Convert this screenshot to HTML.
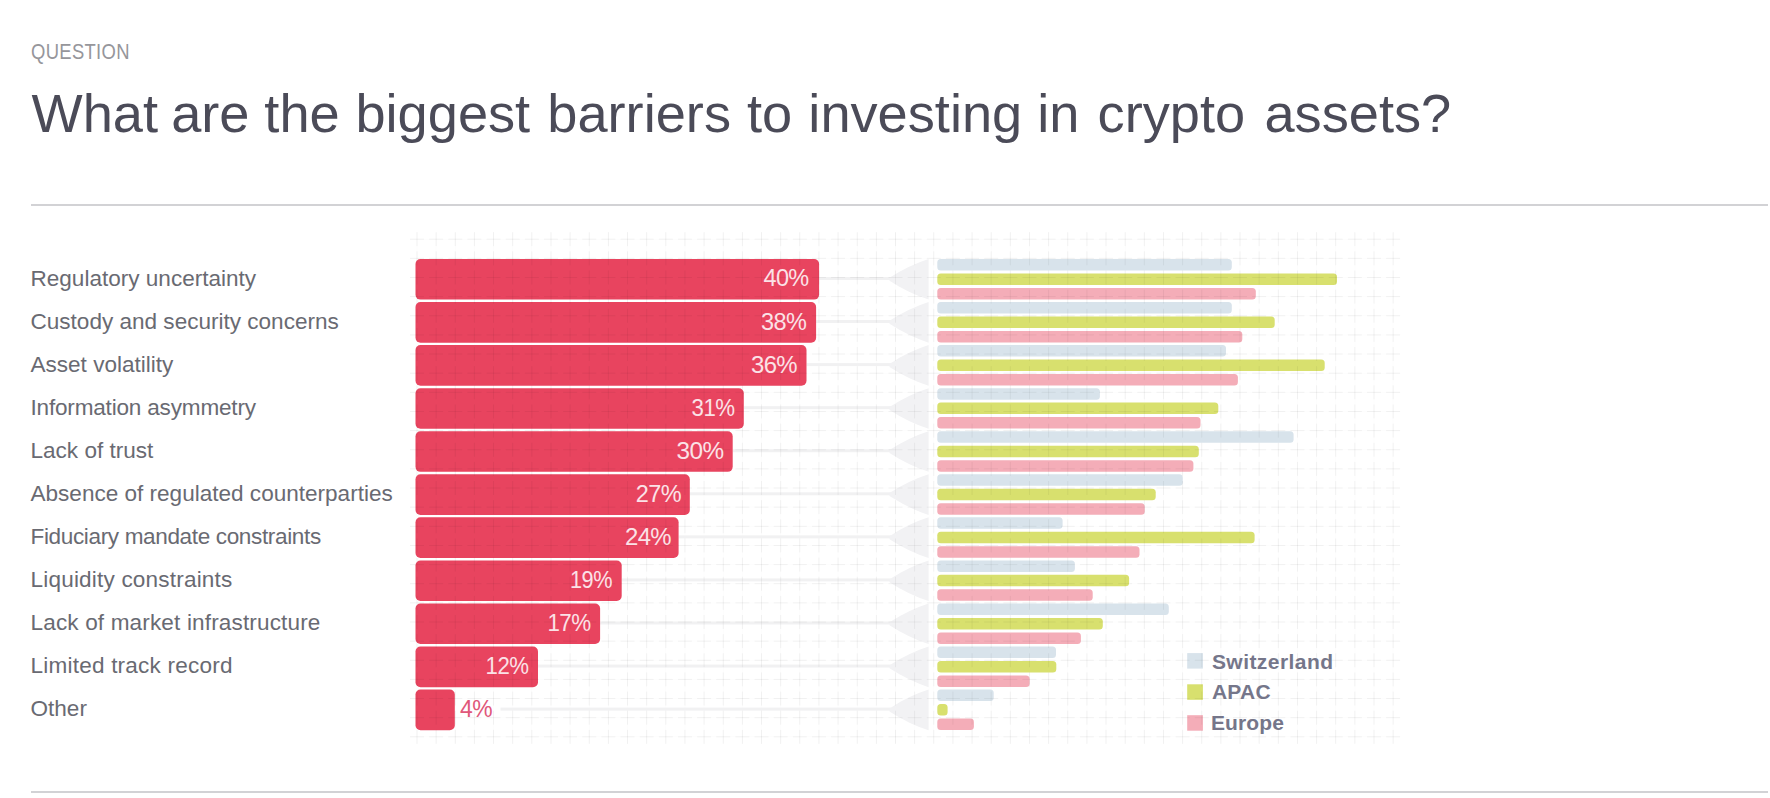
<!DOCTYPE html>
<html><head><meta charset="utf-8"><style>
html,body{margin:0;padding:0;background:#fff;}
body{width:1770px;height:798px;position:relative;overflow:hidden;font-family:"Liberation Sans",sans-serif;}
.b{position:absolute;white-space:nowrap;line-height:0;}
.q{position:absolute;left:31px;top:52.27px;font-size:22.3px;color:#96969b;letter-spacing:0.4px;transform:scaleX(0.826);transform-origin:0 0;line-height:0;white-space:nowrap;}
.t{position:absolute;top:112.72px;font-size:54.2px;color:#4b4b58;line-height:0;white-space:nowrap;}
.hr{position:absolute;left:31px;width:1737px;height:2px;background:#d2d2d5;}
svg{position:absolute;left:0;top:0;}
.lab{position:absolute;left:30.5px;font-size:22.55px;color:#696a72;line-height:0;white-space:nowrap;}
.pct{position:absolute;transform:translateX(-50%);font-size:23.5px;letter-spacing:-0.6px;color:#fbe2e7;line-height:0;white-space:nowrap;}
.pct.out{color:#e0577a;}
.leg{position:absolute;left:1211px;font-size:21px;font-weight:bold;color:#75768a;line-height:0;white-space:nowrap;}
</style></head><body>
<div class="q">QUESTION</div>
<div class="t" style="left:31.55px">What</div>
<div class="t" style="left:171.2px">are</div>
<div class="t" style="left:264.35px">the</div>
<div class="t" style="left:355.45px">biggest</div>
<div class="t" style="left:547.3px">barriers</div>
<div class="t" style="left:746.95px">to</div>
<div class="t" style="left:808.35px">investing</div>
<div class="t" style="left:1037.15px">in</div>
<div class="t" style="left:1097.55px">crypto</div>
<div class="t" style="left:1264.45px">assets?</div>
<div class="hr" style="top:203.6px"></div>
<svg width="1770" height="798" viewBox="0 0 1770 798">
<path d="M410 239.2H1400.14M410 258.34H1400.14M410 277.48H1400.14M410 296.62H1400.14M410 315.76H1400.14M410 334.9H1400.14M410 354.04H1400.14M410 373.18H1400.14M410 392.32H1400.14M410 411.46H1400.14M410 430.6H1400.14M410 449.74H1400.14M410 468.88H1400.14M410 488.02H1400.14M410 507.16H1400.14M410 526.3H1400.14M410 545.44H1400.14M410 564.58H1400.14M410 583.72H1400.14M410 602.86H1400.14M410 622H1400.14M410 641.14H1400.14M410 660.28H1400.14M410 679.42H1400.14M410 698.56H1400.14M410 717.7H1400.14M410 736.84H1400.14M417 232.2V743.84M436.14 232.2V743.84M455.28 232.2V743.84M474.42 232.2V743.84M493.56 232.2V743.84M512.7 232.2V743.84M531.84 232.2V743.84M550.98 232.2V743.84M570.12 232.2V743.84M589.26 232.2V743.84M608.4 232.2V743.84M627.54 232.2V743.84M646.68 232.2V743.84M665.82 232.2V743.84M684.96 232.2V743.84M704.1 232.2V743.84M723.24 232.2V743.84M742.38 232.2V743.84M761.52 232.2V743.84M780.66 232.2V743.84M799.8 232.2V743.84M818.94 232.2V743.84M838.08 232.2V743.84M857.22 232.2V743.84M876.36 232.2V743.84M895.5 232.2V743.84M914.64 232.2V743.84M933.78 232.2V743.84M952.92 232.2V743.84M972.06 232.2V743.84M991.2 232.2V743.84M1010.34 232.2V743.84M1029.48 232.2V743.84M1048.62 232.2V743.84M1067.76 232.2V743.84M1086.9 232.2V743.84M1106.04 232.2V743.84M1125.18 232.2V743.84M1144.32 232.2V743.84M1163.46 232.2V743.84M1182.6 232.2V743.84M1201.74 232.2V743.84M1220.88 232.2V743.84M1240.02 232.2V743.84M1259.16 232.2V743.84M1278.3 232.2V743.84M1297.44 232.2V743.84M1316.58 232.2V743.84M1335.72 232.2V743.84M1354.86 232.2V743.84M1374 232.2V743.84M1393.14 232.2V743.84" stroke="rgba(0,0,0,0.01)" stroke-width="1" fill="none"/>
<rect x="819.1" y="277" width="71.9" height="3" fill="#f1f1f2"/>
<path d="M889.5 277.8 Q909.05 265.2 928.6 259 L928.6 299.6 Q909.05 293.4 889.5 280.8 Z" fill="#f2f2f4"/>
<rect x="816.1" y="320.06" width="74.9" height="3" fill="#f1f1f2"/>
<path d="M889.5 320.86 Q909.05 308.26 928.6 302.06 L928.6 342.66 Q909.05 336.46 889.5 323.86 Z" fill="#f2f2f4"/>
<rect x="806.5" y="363.12" width="84.5" height="3" fill="#f1f1f2"/>
<path d="M889.5 363.92 Q909.05 351.32 928.6 345.12 L928.6 385.72 Q909.05 379.52 889.5 366.92 Z" fill="#f2f2f4"/>
<rect x="743.8" y="406.18" width="147.2" height="3" fill="#f1f1f2"/>
<path d="M889.5 406.98 Q909.05 394.38 928.6 388.18 L928.6 428.78 Q909.05 422.58 889.5 409.98 Z" fill="#f2f2f4"/>
<rect x="732.7" y="449.24" width="158.3" height="3" fill="#f1f1f2"/>
<path d="M889.5 450.04 Q909.05 437.44 928.6 431.24 L928.6 471.84 Q909.05 465.64 889.5 453.04 Z" fill="#f2f2f4"/>
<rect x="689.8" y="492.3" width="201.2" height="3" fill="#f1f1f2"/>
<path d="M889.5 493.1 Q909.05 480.5 928.6 474.3 L928.6 514.9 Q909.05 508.7 889.5 496.1 Z" fill="#f2f2f4"/>
<rect x="678.6" y="535.36" width="212.4" height="3" fill="#f1f1f2"/>
<path d="M889.5 536.16 Q909.05 523.56 928.6 517.36 L928.6 557.96 Q909.05 551.76 889.5 539.16 Z" fill="#f2f2f4"/>
<rect x="621.7" y="578.42" width="269.3" height="3" fill="#f1f1f2"/>
<path d="M889.5 579.22 Q909.05 566.62 928.6 560.42 L928.6 601.02 Q909.05 594.82 889.5 582.22 Z" fill="#f2f2f4"/>
<rect x="600.1" y="621.48" width="290.9" height="3" fill="#f1f1f2"/>
<path d="M889.5 622.28 Q909.05 609.68 928.6 603.48 L928.6 644.08 Q909.05 637.88 889.5 625.28 Z" fill="#f2f2f4"/>
<rect x="538" y="664.54" width="353" height="3" fill="#f1f1f2"/>
<path d="M889.5 665.34 Q909.05 652.74 928.6 646.54 L928.6 687.14 Q909.05 680.94 889.5 668.34 Z" fill="#f2f2f4"/>
<rect x="500.5" y="707.6" width="390.5" height="3" fill="#f1f1f2"/>
<path d="M889.5 708.4 Q909.05 695.8 928.6 689.6 L928.6 730.2 Q909.05 724 889.5 711.4 Z" fill="#f2f2f4"/>
<rect x="415.5" y="259" width="403.6" height="40.6" rx="5" fill="#e8445f"/>
<rect x="415.5" y="302.06" width="400.6" height="40.6" rx="5" fill="#e8445f"/>
<rect x="415.5" y="345.12" width="391" height="40.6" rx="5" fill="#e8445f"/>
<rect x="415.5" y="388.18" width="328.3" height="40.6" rx="5" fill="#e8445f"/>
<rect x="415.5" y="431.24" width="317.2" height="40.6" rx="5" fill="#e8445f"/>
<rect x="415.5" y="474.3" width="274.3" height="40.6" rx="5" fill="#e8445f"/>
<rect x="415.5" y="517.36" width="263.1" height="40.6" rx="5" fill="#e8445f"/>
<rect x="415.5" y="560.42" width="206.2" height="40.6" rx="5" fill="#e8445f"/>
<rect x="415.5" y="603.48" width="184.6" height="40.6" rx="5" fill="#e8445f"/>
<rect x="415.5" y="646.54" width="122.5" height="40.6" rx="5" fill="#e8445f"/>
<rect x="415.5" y="689.6" width="39.3" height="40.6" rx="5" fill="#e8445f"/>
<rect x="937.3" y="259" width="294.5" height="11.5" rx="3.5" fill="#d8e3eb"/>
<rect x="937.3" y="273.4" width="399.7" height="11.5" rx="3.5" fill="#d8e06e"/>
<rect x="937.3" y="287.9" width="318.5" height="11.5" rx="3.5" fill="#f4adb8"/>
<rect x="937.3" y="302.06" width="294.5" height="11.5" rx="3.5" fill="#d8e3eb"/>
<rect x="937.3" y="316.46" width="337.4" height="11.5" rx="3.5" fill="#d8e06e"/>
<rect x="937.3" y="330.96" width="305" height="11.5" rx="3.5" fill="#f4adb8"/>
<rect x="937.3" y="345.12" width="288.7" height="11.5" rx="3.5" fill="#d8e3eb"/>
<rect x="937.3" y="359.52" width="387.4" height="11.5" rx="3.5" fill="#d8e06e"/>
<rect x="937.3" y="374.02" width="300.6" height="11.5" rx="3.5" fill="#f4adb8"/>
<rect x="937.3" y="388.18" width="162.6" height="11.5" rx="3.5" fill="#d8e3eb"/>
<rect x="937.3" y="402.58" width="281" height="11.5" rx="3.5" fill="#d8e06e"/>
<rect x="937.3" y="417.08" width="263.2" height="11.5" rx="3.5" fill="#f4adb8"/>
<rect x="937.3" y="431.24" width="356.3" height="11.5" rx="3.5" fill="#d8e3eb"/>
<rect x="937.3" y="445.64" width="261.5" height="11.5" rx="3.5" fill="#d8e06e"/>
<rect x="937.3" y="460.14" width="256.1" height="11.5" rx="3.5" fill="#f4adb8"/>
<rect x="937.3" y="474.3" width="245.5" height="11.5" rx="3.5" fill="#d8e3eb"/>
<rect x="937.3" y="488.7" width="218.4" height="11.5" rx="3.5" fill="#d8e06e"/>
<rect x="937.3" y="503.2" width="207.4" height="11.5" rx="3.5" fill="#f4adb8"/>
<rect x="937.3" y="517.36" width="125.3" height="11.5" rx="3.5" fill="#d8e3eb"/>
<rect x="937.3" y="531.76" width="317.3" height="11.5" rx="3.5" fill="#d8e06e"/>
<rect x="937.3" y="546.26" width="202.2" height="11.5" rx="3.5" fill="#f4adb8"/>
<rect x="937.3" y="560.42" width="137.6" height="11.5" rx="3.5" fill="#d8e3eb"/>
<rect x="937.3" y="574.82" width="191.8" height="11.5" rx="3.5" fill="#d8e06e"/>
<rect x="937.3" y="589.32" width="155.4" height="11.5" rx="3.5" fill="#f4adb8"/>
<rect x="937.3" y="603.48" width="231.5" height="11.5" rx="3.5" fill="#d8e3eb"/>
<rect x="937.3" y="617.88" width="165.5" height="11.5" rx="3.5" fill="#d8e06e"/>
<rect x="937.3" y="632.38" width="143.6" height="11.5" rx="3.5" fill="#f4adb8"/>
<rect x="937.3" y="646.54" width="118.7" height="11.5" rx="3.5" fill="#d8e3eb"/>
<rect x="937.3" y="660.94" width="119" height="11.5" rx="3.5" fill="#d8e06e"/>
<rect x="937.3" y="675.44" width="92.3" height="11.5" rx="3.5" fill="#f4adb8"/>
<rect x="937.3" y="689.6" width="56.4" height="11.5" rx="3.5" fill="#d8e3eb"/>
<rect x="937.3" y="704" width="10.3" height="11.5" rx="3.5" fill="#d8e06e"/>
<rect x="937.3" y="718.5" width="36.6" height="11.5" rx="3.5" fill="#f4adb8"/>
<rect x="1187.2" y="653.1" width="15.7" height="15.5" fill="#d8e3eb"/>
<rect x="1187.2" y="684.3" width="15.7" height="15.5" fill="#d8e06e"/>
<rect x="1187.2" y="715.2" width="15.7" height="15.5" fill="#f4adb8"/>
<path d="M410 239.2h14M417 232.2v14M429.14 239.2h14M436.14 232.2v14M448.28 239.2h14M455.28 232.2v14M467.42 239.2h14M474.42 232.2v14M486.56 239.2h14M493.56 232.2v14M505.7 239.2h14M512.7 232.2v14M524.84 239.2h14M531.84 232.2v14M543.98 239.2h14M550.98 232.2v14M563.12 239.2h14M570.12 232.2v14M582.26 239.2h14M589.26 232.2v14M601.4 239.2h14M608.4 232.2v14M620.54 239.2h14M627.54 232.2v14M639.68 239.2h14M646.68 232.2v14M658.82 239.2h14M665.82 232.2v14M677.96 239.2h14M684.96 232.2v14M697.1 239.2h14M704.1 232.2v14M716.24 239.2h14M723.24 232.2v14M735.38 239.2h14M742.38 232.2v14M754.52 239.2h14M761.52 232.2v14M773.66 239.2h14M780.66 232.2v14M792.8 239.2h14M799.8 232.2v14M811.94 239.2h14M818.94 232.2v14M831.08 239.2h14M838.08 232.2v14M850.22 239.2h14M857.22 232.2v14M869.36 239.2h14M876.36 232.2v14M888.5 239.2h14M895.5 232.2v14M907.64 239.2h14M914.64 232.2v14M926.78 239.2h14M933.78 232.2v14M945.92 239.2h14M952.92 232.2v14M965.06 239.2h14M972.06 232.2v14M984.2 239.2h14M991.2 232.2v14M1003.34 239.2h14M1010.34 232.2v14M1022.48 239.2h14M1029.48 232.2v14M1041.62 239.2h14M1048.62 232.2v14M1060.76 239.2h14M1067.76 232.2v14M1079.9 239.2h14M1086.9 232.2v14M1099.04 239.2h14M1106.04 232.2v14M1118.18 239.2h14M1125.18 232.2v14M1137.32 239.2h14M1144.32 232.2v14M1156.46 239.2h14M1163.46 232.2v14M1175.6 239.2h14M1182.6 232.2v14M1194.74 239.2h14M1201.74 232.2v14M1213.88 239.2h14M1220.88 232.2v14M1233.02 239.2h14M1240.02 232.2v14M1252.16 239.2h14M1259.16 232.2v14M1271.3 239.2h14M1278.3 232.2v14M1290.44 239.2h14M1297.44 232.2v14M1309.58 239.2h14M1316.58 232.2v14M1328.72 239.2h14M1335.72 232.2v14M1347.86 239.2h14M1354.86 232.2v14M1367 239.2h14M1374 232.2v14M1386.14 239.2h14M1393.14 232.2v14M410 258.34h14M417 251.34v14M429.14 258.34h14M436.14 251.34v14M448.28 258.34h14M455.28 251.34v14M467.42 258.34h14M474.42 251.34v14M486.56 258.34h14M493.56 251.34v14M505.7 258.34h14M512.7 251.34v14M524.84 258.34h14M531.84 251.34v14M543.98 258.34h14M550.98 251.34v14M563.12 258.34h14M570.12 251.34v14M582.26 258.34h14M589.26 251.34v14M601.4 258.34h14M608.4 251.34v14M620.54 258.34h14M627.54 251.34v14M639.68 258.34h14M646.68 251.34v14M658.82 258.34h14M665.82 251.34v14M677.96 258.34h14M684.96 251.34v14M697.1 258.34h14M704.1 251.34v14M716.24 258.34h14M723.24 251.34v14M735.38 258.34h14M742.38 251.34v14M754.52 258.34h14M761.52 251.34v14M773.66 258.34h14M780.66 251.34v14M792.8 258.34h14M799.8 251.34v14M811.94 258.34h14M818.94 251.34v14M831.08 258.34h14M838.08 251.34v14M850.22 258.34h14M857.22 251.34v14M869.36 258.34h14M876.36 251.34v14M888.5 258.34h14M895.5 251.34v14M907.64 258.34h14M914.64 251.34v14M926.78 258.34h14M933.78 251.34v14M945.92 258.34h14M952.92 251.34v14M965.06 258.34h14M972.06 251.34v14M984.2 258.34h14M991.2 251.34v14M1003.34 258.34h14M1010.34 251.34v14M1022.48 258.34h14M1029.48 251.34v14M1041.62 258.34h14M1048.62 251.34v14M1060.76 258.34h14M1067.76 251.34v14M1079.9 258.34h14M1086.9 251.34v14M1099.04 258.34h14M1106.04 251.34v14M1118.18 258.34h14M1125.18 251.34v14M1137.32 258.34h14M1144.32 251.34v14M1156.46 258.34h14M1163.46 251.34v14M1175.6 258.34h14M1182.6 251.34v14M1194.74 258.34h14M1201.74 251.34v14M1213.88 258.34h14M1220.88 251.34v14M1233.02 258.34h14M1240.02 251.34v14M1252.16 258.34h14M1259.16 251.34v14M1271.3 258.34h14M1278.3 251.34v14M1290.44 258.34h14M1297.44 251.34v14M1309.58 258.34h14M1316.58 251.34v14M1328.72 258.34h14M1335.72 251.34v14M1347.86 258.34h14M1354.86 251.34v14M1367 258.34h14M1374 251.34v14M1386.14 258.34h14M1393.14 251.34v14M410 277.48h14M417 270.48v14M429.14 277.48h14M436.14 270.48v14M448.28 277.48h14M455.28 270.48v14M467.42 277.48h14M474.42 270.48v14M486.56 277.48h14M493.56 270.48v14M505.7 277.48h14M512.7 270.48v14M524.84 277.48h14M531.84 270.48v14M543.98 277.48h14M550.98 270.48v14M563.12 277.48h14M570.12 270.48v14M582.26 277.48h14M589.26 270.48v14M601.4 277.48h14M608.4 270.48v14M620.54 277.48h14M627.54 270.48v14M639.68 277.48h14M646.68 270.48v14M658.82 277.48h14M665.82 270.48v14M677.96 277.48h14M684.96 270.48v14M697.1 277.48h14M704.1 270.48v14M716.24 277.48h14M723.24 270.48v14M735.38 277.48h14M742.38 270.48v14M754.52 277.48h14M761.52 270.48v14M773.66 277.48h14M780.66 270.48v14M792.8 277.48h14M799.8 270.48v14M811.94 277.48h14M818.94 270.48v14M831.08 277.48h14M838.08 270.48v14M850.22 277.48h14M857.22 270.48v14M869.36 277.48h14M876.36 270.48v14M888.5 277.48h14M895.5 270.48v14M907.64 277.48h14M914.64 270.48v14M926.78 277.48h14M933.78 270.48v14M945.92 277.48h14M952.92 270.48v14M965.06 277.48h14M972.06 270.48v14M984.2 277.48h14M991.2 270.48v14M1003.34 277.48h14M1010.34 270.48v14M1022.48 277.48h14M1029.48 270.48v14M1041.62 277.48h14M1048.62 270.48v14M1060.76 277.48h14M1067.76 270.48v14M1079.9 277.48h14M1086.9 270.48v14M1099.04 277.48h14M1106.04 270.48v14M1118.18 277.48h14M1125.18 270.48v14M1137.32 277.48h14M1144.32 270.48v14M1156.46 277.48h14M1163.46 270.48v14M1175.6 277.48h14M1182.6 270.48v14M1194.74 277.48h14M1201.74 270.48v14M1213.88 277.48h14M1220.88 270.48v14M1233.02 277.48h14M1240.02 270.48v14M1252.16 277.48h14M1259.16 270.48v14M1271.3 277.48h14M1278.3 270.48v14M1290.44 277.48h14M1297.44 270.48v14M1309.58 277.48h14M1316.58 270.48v14M1328.72 277.48h14M1335.72 270.48v14M1347.86 277.48h14M1354.86 270.48v14M1367 277.48h14M1374 270.48v14M1386.14 277.48h14M1393.14 270.48v14M410 296.62h14M417 289.62v14M429.14 296.62h14M436.14 289.62v14M448.28 296.62h14M455.28 289.62v14M467.42 296.62h14M474.42 289.62v14M486.56 296.62h14M493.56 289.62v14M505.7 296.62h14M512.7 289.62v14M524.84 296.62h14M531.84 289.62v14M543.98 296.62h14M550.98 289.62v14M563.12 296.62h14M570.12 289.62v14M582.26 296.62h14M589.26 289.62v14M601.4 296.62h14M608.4 289.62v14M620.54 296.62h14M627.54 289.62v14M639.68 296.62h14M646.68 289.62v14M658.82 296.62h14M665.82 289.62v14M677.96 296.62h14M684.96 289.62v14M697.1 296.62h14M704.1 289.62v14M716.24 296.62h14M723.24 289.62v14M735.38 296.62h14M742.38 289.62v14M754.52 296.62h14M761.52 289.62v14M773.66 296.62h14M780.66 289.62v14M792.8 296.62h14M799.8 289.62v14M811.94 296.62h14M818.94 289.62v14M831.08 296.62h14M838.08 289.62v14M850.22 296.62h14M857.22 289.62v14M869.36 296.62h14M876.36 289.62v14M888.5 296.62h14M895.5 289.62v14M907.64 296.62h14M914.64 289.62v14M926.78 296.62h14M933.78 289.62v14M945.92 296.62h14M952.92 289.62v14M965.06 296.62h14M972.06 289.62v14M984.2 296.62h14M991.2 289.62v14M1003.34 296.62h14M1010.34 289.62v14M1022.48 296.62h14M1029.48 289.62v14M1041.62 296.62h14M1048.62 289.62v14M1060.76 296.62h14M1067.76 289.62v14M1079.9 296.62h14M1086.9 289.62v14M1099.04 296.62h14M1106.04 289.62v14M1118.18 296.62h14M1125.18 289.62v14M1137.32 296.62h14M1144.32 289.62v14M1156.46 296.62h14M1163.46 289.62v14M1175.6 296.62h14M1182.6 289.62v14M1194.74 296.62h14M1201.74 289.62v14M1213.88 296.62h14M1220.88 289.62v14M1233.02 296.62h14M1240.02 289.62v14M1252.16 296.62h14M1259.16 289.62v14M1271.3 296.62h14M1278.3 289.62v14M1290.44 296.62h14M1297.44 289.62v14M1309.58 296.62h14M1316.58 289.62v14M1328.72 296.62h14M1335.72 289.62v14M1347.86 296.62h14M1354.86 289.62v14M1367 296.62h14M1374 289.62v14M1386.14 296.62h14M1393.14 289.62v14M410 315.76h14M417 308.76v14M429.14 315.76h14M436.14 308.76v14M448.28 315.76h14M455.28 308.76v14M467.42 315.76h14M474.42 308.76v14M486.56 315.76h14M493.56 308.76v14M505.7 315.76h14M512.7 308.76v14M524.84 315.76h14M531.84 308.76v14M543.98 315.76h14M550.98 308.76v14M563.12 315.76h14M570.12 308.76v14M582.26 315.76h14M589.26 308.76v14M601.4 315.76h14M608.4 308.76v14M620.54 315.76h14M627.54 308.76v14M639.68 315.76h14M646.68 308.76v14M658.82 315.76h14M665.82 308.76v14M677.96 315.76h14M684.96 308.76v14M697.1 315.76h14M704.1 308.76v14M716.24 315.76h14M723.24 308.76v14M735.38 315.76h14M742.38 308.76v14M754.52 315.76h14M761.52 308.76v14M773.66 315.76h14M780.66 308.76v14M792.8 315.76h14M799.8 308.76v14M811.94 315.76h14M818.94 308.76v14M831.08 315.76h14M838.08 308.76v14M850.22 315.76h14M857.22 308.76v14M869.36 315.76h14M876.36 308.76v14M888.5 315.76h14M895.5 308.76v14M907.64 315.76h14M914.64 308.76v14M926.78 315.76h14M933.78 308.76v14M945.92 315.76h14M952.92 308.76v14M965.06 315.76h14M972.06 308.76v14M984.2 315.76h14M991.2 308.76v14M1003.34 315.76h14M1010.34 308.76v14M1022.48 315.76h14M1029.48 308.76v14M1041.62 315.76h14M1048.62 308.76v14M1060.76 315.76h14M1067.76 308.76v14M1079.9 315.76h14M1086.9 308.76v14M1099.04 315.76h14M1106.04 308.76v14M1118.18 315.76h14M1125.18 308.76v14M1137.32 315.76h14M1144.32 308.76v14M1156.46 315.76h14M1163.46 308.76v14M1175.6 315.76h14M1182.6 308.76v14M1194.74 315.76h14M1201.74 308.76v14M1213.88 315.76h14M1220.88 308.76v14M1233.02 315.76h14M1240.02 308.76v14M1252.16 315.76h14M1259.16 308.76v14M1271.3 315.76h14M1278.3 308.76v14M1290.44 315.76h14M1297.44 308.76v14M1309.58 315.76h14M1316.58 308.76v14M1328.72 315.76h14M1335.72 308.76v14M1347.86 315.76h14M1354.86 308.76v14M1367 315.76h14M1374 308.76v14M1386.14 315.76h14M1393.14 308.76v14M410 334.9h14M417 327.9v14M429.14 334.9h14M436.14 327.9v14M448.28 334.9h14M455.28 327.9v14M467.42 334.9h14M474.42 327.9v14M486.56 334.9h14M493.56 327.9v14M505.7 334.9h14M512.7 327.9v14M524.84 334.9h14M531.84 327.9v14M543.98 334.9h14M550.98 327.9v14M563.12 334.9h14M570.12 327.9v14M582.26 334.9h14M589.26 327.9v14M601.4 334.9h14M608.4 327.9v14M620.54 334.9h14M627.54 327.9v14M639.68 334.9h14M646.68 327.9v14M658.82 334.9h14M665.82 327.9v14M677.96 334.9h14M684.96 327.9v14M697.1 334.9h14M704.1 327.9v14M716.24 334.9h14M723.24 327.9v14M735.38 334.9h14M742.38 327.9v14M754.52 334.9h14M761.52 327.9v14M773.66 334.9h14M780.66 327.9v14M792.8 334.9h14M799.8 327.9v14M811.94 334.9h14M818.94 327.9v14M831.08 334.9h14M838.08 327.9v14M850.22 334.9h14M857.22 327.9v14M869.36 334.9h14M876.36 327.9v14M888.5 334.9h14M895.5 327.9v14M907.64 334.9h14M914.64 327.9v14M926.78 334.9h14M933.78 327.9v14M945.92 334.9h14M952.92 327.9v14M965.06 334.9h14M972.06 327.9v14M984.2 334.9h14M991.2 327.9v14M1003.34 334.9h14M1010.34 327.9v14M1022.48 334.9h14M1029.48 327.9v14M1041.62 334.9h14M1048.62 327.9v14M1060.76 334.9h14M1067.76 327.9v14M1079.9 334.9h14M1086.9 327.9v14M1099.04 334.9h14M1106.04 327.9v14M1118.18 334.9h14M1125.18 327.9v14M1137.32 334.9h14M1144.32 327.9v14M1156.46 334.9h14M1163.46 327.9v14M1175.6 334.9h14M1182.6 327.9v14M1194.74 334.9h14M1201.74 327.9v14M1213.88 334.9h14M1220.88 327.9v14M1233.02 334.9h14M1240.02 327.9v14M1252.16 334.9h14M1259.16 327.9v14M1271.3 334.9h14M1278.3 327.9v14M1290.44 334.9h14M1297.44 327.9v14M1309.58 334.9h14M1316.58 327.9v14M1328.72 334.9h14M1335.72 327.9v14M1347.86 334.9h14M1354.86 327.9v14M1367 334.9h14M1374 327.9v14M1386.14 334.9h14M1393.14 327.9v14M410 354.04h14M417 347.04v14M429.14 354.04h14M436.14 347.04v14M448.28 354.04h14M455.28 347.04v14M467.42 354.04h14M474.42 347.04v14M486.56 354.04h14M493.56 347.04v14M505.7 354.04h14M512.7 347.04v14M524.84 354.04h14M531.84 347.04v14M543.98 354.04h14M550.98 347.04v14M563.12 354.04h14M570.12 347.04v14M582.26 354.04h14M589.26 347.04v14M601.4 354.04h14M608.4 347.04v14M620.54 354.04h14M627.54 347.04v14M639.68 354.04h14M646.68 347.04v14M658.82 354.04h14M665.82 347.04v14M677.96 354.04h14M684.96 347.04v14M697.1 354.04h14M704.1 347.04v14M716.24 354.04h14M723.24 347.04v14M735.38 354.04h14M742.38 347.04v14M754.52 354.04h14M761.52 347.04v14M773.66 354.04h14M780.66 347.04v14M792.8 354.04h14M799.8 347.04v14M811.94 354.04h14M818.94 347.04v14M831.08 354.04h14M838.08 347.04v14M850.22 354.04h14M857.22 347.04v14M869.36 354.04h14M876.36 347.04v14M888.5 354.04h14M895.5 347.04v14M907.64 354.04h14M914.64 347.04v14M926.78 354.04h14M933.78 347.04v14M945.92 354.04h14M952.92 347.04v14M965.06 354.04h14M972.06 347.04v14M984.2 354.04h14M991.2 347.04v14M1003.34 354.04h14M1010.34 347.04v14M1022.48 354.04h14M1029.48 347.04v14M1041.62 354.04h14M1048.62 347.04v14M1060.76 354.04h14M1067.76 347.04v14M1079.9 354.04h14M1086.9 347.04v14M1099.04 354.04h14M1106.04 347.04v14M1118.18 354.04h14M1125.18 347.04v14M1137.32 354.04h14M1144.32 347.04v14M1156.46 354.04h14M1163.46 347.04v14M1175.6 354.04h14M1182.6 347.04v14M1194.74 354.04h14M1201.74 347.04v14M1213.88 354.04h14M1220.88 347.04v14M1233.02 354.04h14M1240.02 347.04v14M1252.16 354.04h14M1259.16 347.04v14M1271.3 354.04h14M1278.3 347.04v14M1290.44 354.04h14M1297.44 347.04v14M1309.58 354.04h14M1316.58 347.04v14M1328.72 354.04h14M1335.72 347.04v14M1347.86 354.04h14M1354.86 347.04v14M1367 354.04h14M1374 347.04v14M1386.14 354.04h14M1393.14 347.04v14M410 373.18h14M417 366.18v14M429.14 373.18h14M436.14 366.18v14M448.28 373.18h14M455.28 366.18v14M467.42 373.18h14M474.42 366.18v14M486.56 373.18h14M493.56 366.18v14M505.7 373.18h14M512.7 366.18v14M524.84 373.18h14M531.84 366.18v14M543.98 373.18h14M550.98 366.18v14M563.12 373.18h14M570.12 366.18v14M582.26 373.18h14M589.26 366.18v14M601.4 373.18h14M608.4 366.18v14M620.54 373.18h14M627.54 366.18v14M639.68 373.18h14M646.68 366.18v14M658.82 373.18h14M665.82 366.18v14M677.96 373.18h14M684.96 366.18v14M697.1 373.18h14M704.1 366.18v14M716.24 373.18h14M723.24 366.18v14M735.38 373.18h14M742.38 366.18v14M754.52 373.18h14M761.52 366.18v14M773.66 373.18h14M780.66 366.18v14M792.8 373.18h14M799.8 366.18v14M811.94 373.18h14M818.94 366.18v14M831.08 373.18h14M838.08 366.18v14M850.22 373.18h14M857.22 366.18v14M869.36 373.18h14M876.36 366.18v14M888.5 373.18h14M895.5 366.18v14M907.64 373.18h14M914.64 366.18v14M926.78 373.18h14M933.78 366.18v14M945.92 373.18h14M952.92 366.18v14M965.06 373.18h14M972.06 366.18v14M984.2 373.18h14M991.2 366.18v14M1003.34 373.18h14M1010.34 366.18v14M1022.48 373.18h14M1029.48 366.18v14M1041.62 373.18h14M1048.62 366.18v14M1060.76 373.18h14M1067.76 366.18v14M1079.9 373.18h14M1086.9 366.18v14M1099.04 373.18h14M1106.04 366.18v14M1118.18 373.18h14M1125.18 366.18v14M1137.32 373.18h14M1144.32 366.18v14M1156.46 373.18h14M1163.46 366.18v14M1175.6 373.18h14M1182.6 366.18v14M1194.74 373.18h14M1201.74 366.18v14M1213.88 373.18h14M1220.88 366.18v14M1233.02 373.18h14M1240.02 366.18v14M1252.16 373.18h14M1259.16 366.18v14M1271.3 373.18h14M1278.3 366.18v14M1290.44 373.18h14M1297.44 366.18v14M1309.58 373.18h14M1316.58 366.18v14M1328.72 373.18h14M1335.72 366.18v14M1347.86 373.18h14M1354.86 366.18v14M1367 373.18h14M1374 366.18v14M1386.14 373.18h14M1393.14 366.18v14M410 392.32h14M417 385.32v14M429.14 392.32h14M436.14 385.32v14M448.28 392.32h14M455.28 385.32v14M467.42 392.32h14M474.42 385.32v14M486.56 392.32h14M493.56 385.32v14M505.7 392.32h14M512.7 385.32v14M524.84 392.32h14M531.84 385.32v14M543.98 392.32h14M550.98 385.32v14M563.12 392.32h14M570.12 385.32v14M582.26 392.32h14M589.26 385.32v14M601.4 392.32h14M608.4 385.32v14M620.54 392.32h14M627.54 385.32v14M639.68 392.32h14M646.68 385.32v14M658.82 392.32h14M665.82 385.32v14M677.96 392.32h14M684.96 385.32v14M697.1 392.32h14M704.1 385.32v14M716.24 392.32h14M723.24 385.32v14M735.38 392.32h14M742.38 385.32v14M754.52 392.32h14M761.52 385.32v14M773.66 392.32h14M780.66 385.32v14M792.8 392.32h14M799.8 385.32v14M811.94 392.32h14M818.94 385.32v14M831.08 392.32h14M838.08 385.32v14M850.22 392.32h14M857.22 385.32v14M869.36 392.32h14M876.36 385.32v14M888.5 392.32h14M895.5 385.32v14M907.64 392.32h14M914.64 385.32v14M926.78 392.32h14M933.78 385.32v14M945.92 392.32h14M952.92 385.32v14M965.06 392.32h14M972.06 385.32v14M984.2 392.32h14M991.2 385.32v14M1003.34 392.32h14M1010.34 385.32v14M1022.48 392.32h14M1029.48 385.32v14M1041.62 392.32h14M1048.62 385.32v14M1060.76 392.32h14M1067.76 385.32v14M1079.9 392.32h14M1086.9 385.32v14M1099.04 392.32h14M1106.04 385.32v14M1118.18 392.32h14M1125.18 385.32v14M1137.32 392.32h14M1144.32 385.32v14M1156.46 392.32h14M1163.46 385.32v14M1175.6 392.32h14M1182.6 385.32v14M1194.74 392.32h14M1201.74 385.32v14M1213.88 392.32h14M1220.88 385.32v14M1233.02 392.32h14M1240.02 385.32v14M1252.16 392.32h14M1259.16 385.32v14M1271.3 392.32h14M1278.3 385.32v14M1290.44 392.32h14M1297.44 385.32v14M1309.58 392.32h14M1316.58 385.32v14M1328.72 392.32h14M1335.72 385.32v14M1347.86 392.32h14M1354.86 385.32v14M1367 392.32h14M1374 385.32v14M1386.14 392.32h14M1393.14 385.32v14M410 411.46h14M417 404.46v14M429.14 411.46h14M436.14 404.46v14M448.28 411.46h14M455.28 404.46v14M467.42 411.46h14M474.42 404.46v14M486.56 411.46h14M493.56 404.46v14M505.7 411.46h14M512.7 404.46v14M524.84 411.46h14M531.84 404.46v14M543.98 411.46h14M550.98 404.46v14M563.12 411.46h14M570.12 404.46v14M582.26 411.46h14M589.26 404.46v14M601.4 411.46h14M608.4 404.46v14M620.54 411.46h14M627.54 404.46v14M639.68 411.46h14M646.68 404.46v14M658.82 411.46h14M665.82 404.46v14M677.96 411.46h14M684.96 404.46v14M697.1 411.46h14M704.1 404.46v14M716.24 411.46h14M723.24 404.46v14M735.38 411.46h14M742.38 404.46v14M754.52 411.46h14M761.52 404.46v14M773.66 411.46h14M780.66 404.46v14M792.8 411.46h14M799.8 404.46v14M811.94 411.46h14M818.94 404.46v14M831.08 411.46h14M838.08 404.46v14M850.22 411.46h14M857.22 404.46v14M869.36 411.46h14M876.36 404.46v14M888.5 411.46h14M895.5 404.46v14M907.64 411.46h14M914.64 404.46v14M926.78 411.46h14M933.78 404.46v14M945.92 411.46h14M952.92 404.46v14M965.06 411.46h14M972.06 404.46v14M984.2 411.46h14M991.2 404.46v14M1003.34 411.46h14M1010.34 404.46v14M1022.48 411.46h14M1029.48 404.46v14M1041.62 411.46h14M1048.62 404.46v14M1060.76 411.46h14M1067.76 404.46v14M1079.9 411.46h14M1086.9 404.46v14M1099.04 411.46h14M1106.04 404.46v14M1118.18 411.46h14M1125.18 404.46v14M1137.32 411.46h14M1144.32 404.46v14M1156.46 411.46h14M1163.46 404.46v14M1175.6 411.46h14M1182.6 404.46v14M1194.74 411.46h14M1201.74 404.46v14M1213.88 411.46h14M1220.88 404.46v14M1233.02 411.46h14M1240.02 404.46v14M1252.16 411.46h14M1259.16 404.46v14M1271.3 411.46h14M1278.3 404.46v14M1290.44 411.46h14M1297.44 404.46v14M1309.58 411.46h14M1316.58 404.46v14M1328.72 411.46h14M1335.72 404.46v14M1347.86 411.46h14M1354.86 404.46v14M1367 411.46h14M1374 404.46v14M1386.14 411.46h14M1393.14 404.46v14M410 430.6h14M417 423.6v14M429.14 430.6h14M436.14 423.6v14M448.28 430.6h14M455.28 423.6v14M467.42 430.6h14M474.42 423.6v14M486.56 430.6h14M493.56 423.6v14M505.7 430.6h14M512.7 423.6v14M524.84 430.6h14M531.84 423.6v14M543.98 430.6h14M550.98 423.6v14M563.12 430.6h14M570.12 423.6v14M582.26 430.6h14M589.26 423.6v14M601.4 430.6h14M608.4 423.6v14M620.54 430.6h14M627.54 423.6v14M639.68 430.6h14M646.68 423.6v14M658.82 430.6h14M665.82 423.6v14M677.96 430.6h14M684.96 423.6v14M697.1 430.6h14M704.1 423.6v14M716.24 430.6h14M723.24 423.6v14M735.38 430.6h14M742.38 423.6v14M754.52 430.6h14M761.52 423.6v14M773.66 430.6h14M780.66 423.6v14M792.8 430.6h14M799.8 423.6v14M811.94 430.6h14M818.94 423.6v14M831.08 430.6h14M838.08 423.6v14M850.22 430.6h14M857.22 423.6v14M869.36 430.6h14M876.36 423.6v14M888.5 430.6h14M895.5 423.6v14M907.64 430.6h14M914.64 423.6v14M926.78 430.6h14M933.78 423.6v14M945.92 430.6h14M952.92 423.6v14M965.06 430.6h14M972.06 423.6v14M984.2 430.6h14M991.2 423.6v14M1003.34 430.6h14M1010.34 423.6v14M1022.48 430.6h14M1029.48 423.6v14M1041.62 430.6h14M1048.62 423.6v14M1060.76 430.6h14M1067.76 423.6v14M1079.9 430.6h14M1086.9 423.6v14M1099.04 430.6h14M1106.04 423.6v14M1118.18 430.6h14M1125.18 423.6v14M1137.32 430.6h14M1144.32 423.6v14M1156.46 430.6h14M1163.46 423.6v14M1175.6 430.6h14M1182.6 423.6v14M1194.74 430.6h14M1201.74 423.6v14M1213.88 430.6h14M1220.88 423.6v14M1233.02 430.6h14M1240.02 423.6v14M1252.16 430.6h14M1259.16 423.6v14M1271.3 430.6h14M1278.3 423.6v14M1290.44 430.6h14M1297.44 423.6v14M1309.58 430.6h14M1316.58 423.6v14M1328.72 430.6h14M1335.72 423.6v14M1347.86 430.6h14M1354.86 423.6v14M1367 430.6h14M1374 423.6v14M1386.14 430.6h14M1393.14 423.6v14M410 449.74h14M417 442.74v14M429.14 449.74h14M436.14 442.74v14M448.28 449.74h14M455.28 442.74v14M467.42 449.74h14M474.42 442.74v14M486.56 449.74h14M493.56 442.74v14M505.7 449.74h14M512.7 442.74v14M524.84 449.74h14M531.84 442.74v14M543.98 449.74h14M550.98 442.74v14M563.12 449.74h14M570.12 442.74v14M582.26 449.74h14M589.26 442.74v14M601.4 449.74h14M608.4 442.74v14M620.54 449.74h14M627.54 442.74v14M639.68 449.74h14M646.68 442.74v14M658.82 449.74h14M665.82 442.74v14M677.96 449.74h14M684.96 442.74v14M697.1 449.74h14M704.1 442.74v14M716.24 449.74h14M723.24 442.74v14M735.38 449.74h14M742.38 442.74v14M754.52 449.74h14M761.52 442.74v14M773.66 449.74h14M780.66 442.74v14M792.8 449.74h14M799.8 442.74v14M811.94 449.74h14M818.94 442.74v14M831.08 449.74h14M838.08 442.74v14M850.22 449.74h14M857.22 442.74v14M869.36 449.74h14M876.36 442.74v14M888.5 449.74h14M895.5 442.74v14M907.64 449.74h14M914.64 442.74v14M926.78 449.74h14M933.78 442.74v14M945.92 449.74h14M952.92 442.74v14M965.06 449.74h14M972.06 442.74v14M984.2 449.74h14M991.2 442.74v14M1003.34 449.74h14M1010.34 442.74v14M1022.48 449.74h14M1029.48 442.74v14M1041.62 449.74h14M1048.62 442.74v14M1060.76 449.74h14M1067.76 442.74v14M1079.9 449.74h14M1086.9 442.74v14M1099.04 449.74h14M1106.04 442.74v14M1118.18 449.74h14M1125.18 442.74v14M1137.32 449.74h14M1144.32 442.74v14M1156.46 449.74h14M1163.46 442.74v14M1175.6 449.74h14M1182.6 442.74v14M1194.74 449.74h14M1201.74 442.74v14M1213.88 449.74h14M1220.88 442.74v14M1233.02 449.74h14M1240.02 442.74v14M1252.16 449.74h14M1259.16 442.74v14M1271.3 449.74h14M1278.3 442.74v14M1290.44 449.74h14M1297.44 442.74v14M1309.58 449.74h14M1316.58 442.74v14M1328.72 449.74h14M1335.72 442.74v14M1347.86 449.74h14M1354.86 442.74v14M1367 449.74h14M1374 442.74v14M1386.14 449.74h14M1393.14 442.74v14M410 468.88h14M417 461.88v14M429.14 468.88h14M436.14 461.88v14M448.28 468.88h14M455.28 461.88v14M467.42 468.88h14M474.42 461.88v14M486.56 468.88h14M493.56 461.88v14M505.7 468.88h14M512.7 461.88v14M524.84 468.88h14M531.84 461.88v14M543.98 468.88h14M550.98 461.88v14M563.12 468.88h14M570.12 461.88v14M582.26 468.88h14M589.26 461.88v14M601.4 468.88h14M608.4 461.88v14M620.54 468.88h14M627.54 461.88v14M639.68 468.88h14M646.68 461.88v14M658.82 468.88h14M665.82 461.88v14M677.96 468.88h14M684.96 461.88v14M697.1 468.88h14M704.1 461.88v14M716.24 468.88h14M723.24 461.88v14M735.38 468.88h14M742.38 461.88v14M754.52 468.88h14M761.52 461.88v14M773.66 468.88h14M780.66 461.88v14M792.8 468.88h14M799.8 461.88v14M811.94 468.88h14M818.94 461.88v14M831.08 468.88h14M838.08 461.88v14M850.22 468.88h14M857.22 461.88v14M869.36 468.88h14M876.36 461.88v14M888.5 468.88h14M895.5 461.88v14M907.64 468.88h14M914.64 461.88v14M926.78 468.88h14M933.78 461.88v14M945.92 468.88h14M952.92 461.88v14M965.06 468.88h14M972.06 461.88v14M984.2 468.88h14M991.2 461.88v14M1003.34 468.88h14M1010.34 461.88v14M1022.48 468.88h14M1029.48 461.88v14M1041.62 468.88h14M1048.62 461.88v14M1060.76 468.88h14M1067.76 461.88v14M1079.9 468.88h14M1086.9 461.88v14M1099.04 468.88h14M1106.04 461.88v14M1118.18 468.88h14M1125.18 461.88v14M1137.32 468.88h14M1144.32 461.88v14M1156.46 468.88h14M1163.46 461.88v14M1175.6 468.88h14M1182.6 461.88v14M1194.74 468.88h14M1201.74 461.88v14M1213.88 468.88h14M1220.88 461.88v14M1233.02 468.88h14M1240.02 461.88v14M1252.16 468.88h14M1259.16 461.88v14M1271.3 468.88h14M1278.3 461.88v14M1290.44 468.88h14M1297.44 461.88v14M1309.58 468.88h14M1316.58 461.88v14M1328.72 468.88h14M1335.72 461.88v14M1347.86 468.88h14M1354.86 461.88v14M1367 468.88h14M1374 461.88v14M1386.14 468.88h14M1393.14 461.88v14M410 488.02h14M417 481.02v14M429.14 488.02h14M436.14 481.02v14M448.28 488.02h14M455.28 481.02v14M467.42 488.02h14M474.42 481.02v14M486.56 488.02h14M493.56 481.02v14M505.7 488.02h14M512.7 481.02v14M524.84 488.02h14M531.84 481.02v14M543.98 488.02h14M550.98 481.02v14M563.12 488.02h14M570.12 481.02v14M582.26 488.02h14M589.26 481.02v14M601.4 488.02h14M608.4 481.02v14M620.54 488.02h14M627.54 481.02v14M639.68 488.02h14M646.68 481.02v14M658.82 488.02h14M665.82 481.02v14M677.96 488.02h14M684.96 481.02v14M697.1 488.02h14M704.1 481.02v14M716.24 488.02h14M723.24 481.02v14M735.38 488.02h14M742.38 481.02v14M754.52 488.02h14M761.52 481.02v14M773.66 488.02h14M780.66 481.02v14M792.8 488.02h14M799.8 481.02v14M811.94 488.02h14M818.94 481.02v14M831.08 488.02h14M838.08 481.02v14M850.22 488.02h14M857.22 481.02v14M869.36 488.02h14M876.36 481.02v14M888.5 488.02h14M895.5 481.02v14M907.64 488.02h14M914.64 481.02v14M926.78 488.02h14M933.78 481.02v14M945.92 488.02h14M952.92 481.02v14M965.06 488.02h14M972.06 481.02v14M984.2 488.02h14M991.2 481.02v14M1003.34 488.02h14M1010.34 481.02v14M1022.48 488.02h14M1029.48 481.02v14M1041.62 488.02h14M1048.62 481.02v14M1060.76 488.02h14M1067.76 481.02v14M1079.9 488.02h14M1086.9 481.02v14M1099.04 488.02h14M1106.04 481.02v14M1118.18 488.02h14M1125.18 481.02v14M1137.32 488.02h14M1144.32 481.02v14M1156.46 488.02h14M1163.46 481.02v14M1175.6 488.02h14M1182.6 481.02v14M1194.74 488.02h14M1201.74 481.02v14M1213.88 488.02h14M1220.88 481.02v14M1233.02 488.02h14M1240.02 481.02v14M1252.16 488.02h14M1259.16 481.02v14M1271.3 488.02h14M1278.3 481.02v14M1290.44 488.02h14M1297.44 481.02v14M1309.58 488.02h14M1316.58 481.02v14M1328.72 488.02h14M1335.72 481.02v14M1347.86 488.02h14M1354.86 481.02v14M1367 488.02h14M1374 481.02v14M1386.14 488.02h14M1393.14 481.02v14M410 507.16h14M417 500.16v14M429.14 507.16h14M436.14 500.16v14M448.28 507.16h14M455.28 500.16v14M467.42 507.16h14M474.42 500.16v14M486.56 507.16h14M493.56 500.16v14M505.7 507.16h14M512.7 500.16v14M524.84 507.16h14M531.84 500.16v14M543.98 507.16h14M550.98 500.16v14M563.12 507.16h14M570.12 500.16v14M582.26 507.16h14M589.26 500.16v14M601.4 507.16h14M608.4 500.16v14M620.54 507.16h14M627.54 500.16v14M639.68 507.16h14M646.68 500.16v14M658.82 507.16h14M665.82 500.16v14M677.96 507.16h14M684.96 500.16v14M697.1 507.16h14M704.1 500.16v14M716.24 507.16h14M723.24 500.16v14M735.38 507.16h14M742.38 500.16v14M754.52 507.16h14M761.52 500.16v14M773.66 507.16h14M780.66 500.16v14M792.8 507.16h14M799.8 500.16v14M811.94 507.16h14M818.94 500.16v14M831.08 507.16h14M838.08 500.16v14M850.22 507.16h14M857.22 500.16v14M869.36 507.16h14M876.36 500.16v14M888.5 507.16h14M895.5 500.16v14M907.64 507.16h14M914.64 500.16v14M926.78 507.16h14M933.78 500.16v14M945.92 507.16h14M952.92 500.16v14M965.06 507.16h14M972.06 500.16v14M984.2 507.16h14M991.2 500.16v14M1003.34 507.16h14M1010.34 500.16v14M1022.48 507.16h14M1029.48 500.16v14M1041.62 507.16h14M1048.62 500.16v14M1060.76 507.16h14M1067.76 500.16v14M1079.9 507.16h14M1086.9 500.16v14M1099.04 507.16h14M1106.04 500.16v14M1118.18 507.16h14M1125.18 500.16v14M1137.32 507.16h14M1144.32 500.16v14M1156.46 507.16h14M1163.46 500.16v14M1175.6 507.16h14M1182.6 500.16v14M1194.74 507.16h14M1201.74 500.16v14M1213.88 507.16h14M1220.88 500.16v14M1233.02 507.16h14M1240.02 500.16v14M1252.16 507.16h14M1259.16 500.16v14M1271.3 507.16h14M1278.3 500.16v14M1290.44 507.16h14M1297.44 500.16v14M1309.58 507.16h14M1316.58 500.16v14M1328.72 507.16h14M1335.72 500.16v14M1347.86 507.16h14M1354.86 500.16v14M1367 507.16h14M1374 500.16v14M1386.14 507.16h14M1393.14 500.16v14M410 526.3h14M417 519.3v14M429.14 526.3h14M436.14 519.3v14M448.28 526.3h14M455.28 519.3v14M467.42 526.3h14M474.42 519.3v14M486.56 526.3h14M493.56 519.3v14M505.7 526.3h14M512.7 519.3v14M524.84 526.3h14M531.84 519.3v14M543.98 526.3h14M550.98 519.3v14M563.12 526.3h14M570.12 519.3v14M582.26 526.3h14M589.26 519.3v14M601.4 526.3h14M608.4 519.3v14M620.54 526.3h14M627.54 519.3v14M639.68 526.3h14M646.68 519.3v14M658.82 526.3h14M665.82 519.3v14M677.96 526.3h14M684.96 519.3v14M697.1 526.3h14M704.1 519.3v14M716.24 526.3h14M723.24 519.3v14M735.38 526.3h14M742.38 519.3v14M754.52 526.3h14M761.52 519.3v14M773.66 526.3h14M780.66 519.3v14M792.8 526.3h14M799.8 519.3v14M811.94 526.3h14M818.94 519.3v14M831.08 526.3h14M838.08 519.3v14M850.22 526.3h14M857.22 519.3v14M869.36 526.3h14M876.36 519.3v14M888.5 526.3h14M895.5 519.3v14M907.64 526.3h14M914.64 519.3v14M926.78 526.3h14M933.78 519.3v14M945.92 526.3h14M952.92 519.3v14M965.06 526.3h14M972.06 519.3v14M984.2 526.3h14M991.2 519.3v14M1003.34 526.3h14M1010.34 519.3v14M1022.48 526.3h14M1029.48 519.3v14M1041.62 526.3h14M1048.62 519.3v14M1060.76 526.3h14M1067.76 519.3v14M1079.9 526.3h14M1086.9 519.3v14M1099.04 526.3h14M1106.04 519.3v14M1118.18 526.3h14M1125.18 519.3v14M1137.32 526.3h14M1144.32 519.3v14M1156.46 526.3h14M1163.46 519.3v14M1175.6 526.3h14M1182.6 519.3v14M1194.74 526.3h14M1201.74 519.3v14M1213.88 526.3h14M1220.88 519.3v14M1233.02 526.3h14M1240.02 519.3v14M1252.16 526.3h14M1259.16 519.3v14M1271.3 526.3h14M1278.3 519.3v14M1290.44 526.3h14M1297.44 519.3v14M1309.58 526.3h14M1316.58 519.3v14M1328.72 526.3h14M1335.72 519.3v14M1347.86 526.3h14M1354.86 519.3v14M1367 526.3h14M1374 519.3v14M1386.14 526.3h14M1393.14 519.3v14M410 545.44h14M417 538.44v14M429.14 545.44h14M436.14 538.44v14M448.28 545.44h14M455.28 538.44v14M467.42 545.44h14M474.42 538.44v14M486.56 545.44h14M493.56 538.44v14M505.7 545.44h14M512.7 538.44v14M524.84 545.44h14M531.84 538.44v14M543.98 545.44h14M550.98 538.44v14M563.12 545.44h14M570.12 538.44v14M582.26 545.44h14M589.26 538.44v14M601.4 545.44h14M608.4 538.44v14M620.54 545.44h14M627.54 538.44v14M639.68 545.44h14M646.68 538.44v14M658.82 545.44h14M665.82 538.44v14M677.96 545.44h14M684.96 538.44v14M697.1 545.44h14M704.1 538.44v14M716.24 545.44h14M723.24 538.44v14M735.38 545.44h14M742.38 538.44v14M754.52 545.44h14M761.52 538.44v14M773.66 545.44h14M780.66 538.44v14M792.8 545.44h14M799.8 538.44v14M811.94 545.44h14M818.94 538.44v14M831.08 545.44h14M838.08 538.44v14M850.22 545.44h14M857.22 538.44v14M869.36 545.44h14M876.36 538.44v14M888.5 545.44h14M895.5 538.44v14M907.64 545.44h14M914.64 538.44v14M926.78 545.44h14M933.78 538.44v14M945.92 545.44h14M952.92 538.44v14M965.06 545.44h14M972.06 538.44v14M984.2 545.44h14M991.2 538.44v14M1003.34 545.44h14M1010.34 538.44v14M1022.48 545.44h14M1029.48 538.44v14M1041.62 545.44h14M1048.62 538.44v14M1060.76 545.44h14M1067.76 538.44v14M1079.9 545.44h14M1086.9 538.44v14M1099.04 545.44h14M1106.04 538.44v14M1118.18 545.44h14M1125.18 538.44v14M1137.32 545.44h14M1144.32 538.44v14M1156.46 545.44h14M1163.46 538.44v14M1175.6 545.44h14M1182.6 538.44v14M1194.74 545.44h14M1201.74 538.44v14M1213.88 545.44h14M1220.88 538.44v14M1233.02 545.44h14M1240.02 538.44v14M1252.16 545.44h14M1259.16 538.44v14M1271.3 545.44h14M1278.3 538.44v14M1290.44 545.44h14M1297.44 538.44v14M1309.58 545.44h14M1316.58 538.44v14M1328.72 545.44h14M1335.72 538.44v14M1347.86 545.44h14M1354.86 538.44v14M1367 545.44h14M1374 538.44v14M1386.14 545.44h14M1393.14 538.44v14M410 564.58h14M417 557.58v14M429.14 564.58h14M436.14 557.58v14M448.28 564.58h14M455.28 557.58v14M467.42 564.58h14M474.42 557.58v14M486.56 564.58h14M493.56 557.58v14M505.7 564.58h14M512.7 557.58v14M524.84 564.58h14M531.84 557.58v14M543.98 564.58h14M550.98 557.58v14M563.12 564.58h14M570.12 557.58v14M582.26 564.58h14M589.26 557.58v14M601.4 564.58h14M608.4 557.58v14M620.54 564.58h14M627.54 557.58v14M639.68 564.58h14M646.68 557.58v14M658.82 564.58h14M665.82 557.58v14M677.96 564.58h14M684.96 557.58v14M697.1 564.58h14M704.1 557.58v14M716.24 564.58h14M723.24 557.58v14M735.38 564.58h14M742.38 557.58v14M754.52 564.58h14M761.52 557.58v14M773.66 564.58h14M780.66 557.58v14M792.8 564.58h14M799.8 557.58v14M811.94 564.58h14M818.94 557.58v14M831.08 564.58h14M838.08 557.58v14M850.22 564.58h14M857.22 557.58v14M869.36 564.58h14M876.36 557.58v14M888.5 564.58h14M895.5 557.58v14M907.64 564.58h14M914.64 557.58v14M926.78 564.58h14M933.78 557.58v14M945.92 564.58h14M952.92 557.58v14M965.06 564.58h14M972.06 557.58v14M984.2 564.58h14M991.2 557.58v14M1003.34 564.58h14M1010.34 557.58v14M1022.48 564.58h14M1029.48 557.58v14M1041.62 564.58h14M1048.62 557.58v14M1060.76 564.58h14M1067.76 557.58v14M1079.9 564.58h14M1086.9 557.58v14M1099.04 564.58h14M1106.04 557.58v14M1118.18 564.58h14M1125.18 557.58v14M1137.32 564.58h14M1144.32 557.58v14M1156.46 564.58h14M1163.46 557.58v14M1175.6 564.58h14M1182.6 557.58v14M1194.74 564.58h14M1201.74 557.58v14M1213.88 564.58h14M1220.88 557.58v14M1233.02 564.58h14M1240.02 557.58v14M1252.16 564.58h14M1259.16 557.58v14M1271.3 564.58h14M1278.3 557.58v14M1290.44 564.58h14M1297.44 557.58v14M1309.58 564.58h14M1316.58 557.58v14M1328.72 564.58h14M1335.72 557.58v14M1347.86 564.58h14M1354.86 557.58v14M1367 564.58h14M1374 557.58v14M1386.14 564.58h14M1393.14 557.58v14M410 583.72h14M417 576.72v14M429.14 583.72h14M436.14 576.72v14M448.28 583.72h14M455.28 576.72v14M467.42 583.72h14M474.42 576.72v14M486.56 583.72h14M493.56 576.72v14M505.7 583.72h14M512.7 576.72v14M524.84 583.72h14M531.84 576.72v14M543.98 583.72h14M550.98 576.72v14M563.12 583.72h14M570.12 576.72v14M582.26 583.72h14M589.26 576.72v14M601.4 583.72h14M608.4 576.72v14M620.54 583.72h14M627.54 576.72v14M639.68 583.72h14M646.68 576.72v14M658.82 583.72h14M665.82 576.72v14M677.96 583.72h14M684.96 576.72v14M697.1 583.72h14M704.1 576.72v14M716.24 583.72h14M723.24 576.72v14M735.38 583.72h14M742.38 576.72v14M754.52 583.72h14M761.52 576.72v14M773.66 583.72h14M780.66 576.72v14M792.8 583.72h14M799.8 576.72v14M811.94 583.72h14M818.94 576.72v14M831.08 583.72h14M838.08 576.72v14M850.22 583.72h14M857.22 576.72v14M869.36 583.72h14M876.36 576.72v14M888.5 583.72h14M895.5 576.72v14M907.64 583.72h14M914.64 576.72v14M926.78 583.72h14M933.78 576.72v14M945.92 583.72h14M952.92 576.72v14M965.06 583.72h14M972.06 576.72v14M984.2 583.72h14M991.2 576.72v14M1003.34 583.72h14M1010.34 576.72v14M1022.48 583.72h14M1029.48 576.72v14M1041.62 583.72h14M1048.62 576.72v14M1060.76 583.72h14M1067.76 576.72v14M1079.9 583.72h14M1086.9 576.72v14M1099.04 583.72h14M1106.04 576.72v14M1118.18 583.72h14M1125.18 576.72v14M1137.32 583.72h14M1144.32 576.72v14M1156.46 583.72h14M1163.46 576.72v14M1175.6 583.72h14M1182.6 576.72v14M1194.74 583.72h14M1201.74 576.72v14M1213.88 583.72h14M1220.88 576.72v14M1233.02 583.72h14M1240.02 576.72v14M1252.16 583.72h14M1259.16 576.72v14M1271.3 583.72h14M1278.3 576.72v14M1290.44 583.72h14M1297.44 576.72v14M1309.58 583.72h14M1316.58 576.72v14M1328.72 583.72h14M1335.72 576.72v14M1347.86 583.72h14M1354.86 576.72v14M1367 583.72h14M1374 576.72v14M1386.14 583.72h14M1393.14 576.72v14M410 602.86h14M417 595.86v14M429.14 602.86h14M436.14 595.86v14M448.28 602.86h14M455.28 595.86v14M467.42 602.86h14M474.42 595.86v14M486.56 602.86h14M493.56 595.86v14M505.7 602.86h14M512.7 595.86v14M524.84 602.86h14M531.84 595.86v14M543.98 602.86h14M550.98 595.86v14M563.12 602.86h14M570.12 595.86v14M582.26 602.86h14M589.26 595.86v14M601.4 602.86h14M608.4 595.86v14M620.54 602.86h14M627.54 595.86v14M639.68 602.86h14M646.68 595.86v14M658.82 602.86h14M665.82 595.86v14M677.96 602.86h14M684.96 595.86v14M697.1 602.86h14M704.1 595.86v14M716.24 602.86h14M723.24 595.86v14M735.38 602.86h14M742.38 595.86v14M754.52 602.86h14M761.52 595.86v14M773.66 602.86h14M780.66 595.86v14M792.8 602.86h14M799.8 595.86v14M811.94 602.86h14M818.94 595.86v14M831.08 602.86h14M838.08 595.86v14M850.22 602.86h14M857.22 595.86v14M869.36 602.86h14M876.36 595.86v14M888.5 602.86h14M895.5 595.86v14M907.64 602.86h14M914.64 595.86v14M926.78 602.86h14M933.78 595.86v14M945.92 602.86h14M952.92 595.86v14M965.06 602.86h14M972.06 595.86v14M984.2 602.86h14M991.2 595.86v14M1003.34 602.86h14M1010.34 595.86v14M1022.48 602.86h14M1029.48 595.86v14M1041.62 602.86h14M1048.62 595.86v14M1060.76 602.86h14M1067.76 595.86v14M1079.9 602.86h14M1086.9 595.86v14M1099.04 602.86h14M1106.04 595.86v14M1118.18 602.86h14M1125.18 595.86v14M1137.32 602.86h14M1144.32 595.86v14M1156.46 602.86h14M1163.46 595.86v14M1175.6 602.86h14M1182.6 595.86v14M1194.74 602.86h14M1201.74 595.86v14M1213.88 602.86h14M1220.88 595.86v14M1233.02 602.86h14M1240.02 595.86v14M1252.16 602.86h14M1259.16 595.86v14M1271.3 602.86h14M1278.3 595.86v14M1290.44 602.86h14M1297.44 595.86v14M1309.58 602.86h14M1316.58 595.86v14M1328.72 602.86h14M1335.72 595.86v14M1347.86 602.86h14M1354.86 595.86v14M1367 602.86h14M1374 595.86v14M1386.14 602.86h14M1393.14 595.86v14M410 622h14M417 615v14M429.14 622h14M436.14 615v14M448.28 622h14M455.28 615v14M467.42 622h14M474.42 615v14M486.56 622h14M493.56 615v14M505.7 622h14M512.7 615v14M524.84 622h14M531.84 615v14M543.98 622h14M550.98 615v14M563.12 622h14M570.12 615v14M582.26 622h14M589.26 615v14M601.4 622h14M608.4 615v14M620.54 622h14M627.54 615v14M639.68 622h14M646.68 615v14M658.82 622h14M665.82 615v14M677.96 622h14M684.96 615v14M697.1 622h14M704.1 615v14M716.24 622h14M723.24 615v14M735.38 622h14M742.38 615v14M754.52 622h14M761.52 615v14M773.66 622h14M780.66 615v14M792.8 622h14M799.8 615v14M811.94 622h14M818.94 615v14M831.08 622h14M838.08 615v14M850.22 622h14M857.22 615v14M869.36 622h14M876.36 615v14M888.5 622h14M895.5 615v14M907.64 622h14M914.64 615v14M926.78 622h14M933.78 615v14M945.92 622h14M952.92 615v14M965.06 622h14M972.06 615v14M984.2 622h14M991.2 615v14M1003.34 622h14M1010.34 615v14M1022.48 622h14M1029.48 615v14M1041.62 622h14M1048.62 615v14M1060.76 622h14M1067.76 615v14M1079.9 622h14M1086.9 615v14M1099.04 622h14M1106.04 615v14M1118.18 622h14M1125.18 615v14M1137.32 622h14M1144.32 615v14M1156.46 622h14M1163.46 615v14M1175.6 622h14M1182.6 615v14M1194.74 622h14M1201.74 615v14M1213.88 622h14M1220.88 615v14M1233.02 622h14M1240.02 615v14M1252.16 622h14M1259.16 615v14M1271.3 622h14M1278.3 615v14M1290.44 622h14M1297.44 615v14M1309.58 622h14M1316.58 615v14M1328.72 622h14M1335.72 615v14M1347.86 622h14M1354.86 615v14M1367 622h14M1374 615v14M1386.14 622h14M1393.14 615v14M410 641.14h14M417 634.14v14M429.14 641.14h14M436.14 634.14v14M448.28 641.14h14M455.28 634.14v14M467.42 641.14h14M474.42 634.14v14M486.56 641.14h14M493.56 634.14v14M505.7 641.14h14M512.7 634.14v14M524.84 641.14h14M531.84 634.14v14M543.98 641.14h14M550.98 634.14v14M563.12 641.14h14M570.12 634.14v14M582.26 641.14h14M589.26 634.14v14M601.4 641.14h14M608.4 634.14v14M620.54 641.14h14M627.54 634.14v14M639.68 641.14h14M646.68 634.14v14M658.82 641.14h14M665.82 634.14v14M677.96 641.14h14M684.96 634.14v14M697.1 641.14h14M704.1 634.14v14M716.24 641.14h14M723.24 634.14v14M735.38 641.14h14M742.38 634.14v14M754.52 641.14h14M761.52 634.14v14M773.66 641.14h14M780.66 634.14v14M792.8 641.14h14M799.8 634.14v14M811.94 641.14h14M818.94 634.14v14M831.08 641.14h14M838.08 634.14v14M850.22 641.14h14M857.22 634.14v14M869.36 641.14h14M876.36 634.14v14M888.5 641.14h14M895.5 634.14v14M907.64 641.14h14M914.64 634.14v14M926.78 641.14h14M933.78 634.14v14M945.92 641.14h14M952.92 634.14v14M965.06 641.14h14M972.06 634.14v14M984.2 641.14h14M991.2 634.14v14M1003.34 641.14h14M1010.34 634.14v14M1022.48 641.14h14M1029.48 634.14v14M1041.62 641.14h14M1048.62 634.14v14M1060.76 641.14h14M1067.76 634.14v14M1079.9 641.14h14M1086.9 634.14v14M1099.04 641.14h14M1106.04 634.14v14M1118.18 641.14h14M1125.18 634.14v14M1137.32 641.14h14M1144.32 634.14v14M1156.46 641.14h14M1163.46 634.14v14M1175.6 641.14h14M1182.6 634.14v14M1194.74 641.14h14M1201.74 634.14v14M1213.88 641.14h14M1220.88 634.14v14M1233.02 641.14h14M1240.02 634.14v14M1252.16 641.14h14M1259.16 634.14v14M1271.3 641.14h14M1278.3 634.14v14M1290.44 641.14h14M1297.44 634.14v14M1309.58 641.14h14M1316.58 634.14v14M1328.72 641.14h14M1335.72 634.14v14M1347.86 641.14h14M1354.86 634.14v14M1367 641.14h14M1374 634.14v14M1386.14 641.14h14M1393.14 634.14v14M410 660.28h14M417 653.28v14M429.14 660.28h14M436.14 653.28v14M448.28 660.28h14M455.28 653.28v14M467.42 660.28h14M474.42 653.28v14M486.56 660.28h14M493.56 653.28v14M505.7 660.28h14M512.7 653.28v14M524.84 660.28h14M531.84 653.28v14M543.98 660.28h14M550.98 653.28v14M563.12 660.28h14M570.12 653.28v14M582.26 660.28h14M589.26 653.28v14M601.4 660.28h14M608.4 653.28v14M620.54 660.28h14M627.54 653.28v14M639.68 660.28h14M646.68 653.28v14M658.82 660.28h14M665.82 653.28v14M677.96 660.28h14M684.96 653.28v14M697.1 660.28h14M704.1 653.28v14M716.24 660.28h14M723.24 653.28v14M735.38 660.28h14M742.38 653.28v14M754.52 660.28h14M761.52 653.28v14M773.66 660.28h14M780.66 653.28v14M792.8 660.28h14M799.8 653.28v14M811.94 660.28h14M818.94 653.28v14M831.08 660.28h14M838.08 653.28v14M850.22 660.28h14M857.22 653.28v14M869.36 660.28h14M876.36 653.28v14M888.5 660.28h14M895.5 653.28v14M907.64 660.28h14M914.64 653.28v14M926.78 660.28h14M933.78 653.28v14M945.92 660.28h14M952.92 653.28v14M965.06 660.28h14M972.06 653.28v14M984.2 660.28h14M991.2 653.28v14M1003.34 660.28h14M1010.34 653.28v14M1022.48 660.28h14M1029.48 653.28v14M1041.62 660.28h14M1048.62 653.28v14M1060.76 660.28h14M1067.76 653.28v14M1079.9 660.28h14M1086.9 653.28v14M1099.04 660.28h14M1106.04 653.28v14M1118.18 660.28h14M1125.18 653.28v14M1137.32 660.28h14M1144.32 653.28v14M1156.46 660.28h14M1163.46 653.28v14M1175.6 660.28h14M1182.6 653.28v14M1194.74 660.28h14M1201.74 653.28v14M1213.88 660.28h14M1220.88 653.28v14M1233.02 660.28h14M1240.02 653.28v14M1252.16 660.28h14M1259.16 653.28v14M1271.3 660.28h14M1278.3 653.28v14M1290.44 660.28h14M1297.44 653.28v14M1309.58 660.28h14M1316.58 653.28v14M1328.72 660.28h14M1335.72 653.28v14M1347.86 660.28h14M1354.86 653.28v14M1367 660.28h14M1374 653.28v14M1386.14 660.28h14M1393.14 653.28v14M410 679.42h14M417 672.42v14M429.14 679.42h14M436.14 672.42v14M448.28 679.42h14M455.28 672.42v14M467.42 679.42h14M474.42 672.42v14M486.56 679.42h14M493.56 672.42v14M505.7 679.42h14M512.7 672.42v14M524.84 679.42h14M531.84 672.42v14M543.98 679.42h14M550.98 672.42v14M563.12 679.42h14M570.12 672.42v14M582.26 679.42h14M589.26 672.42v14M601.4 679.42h14M608.4 672.42v14M620.54 679.42h14M627.54 672.42v14M639.68 679.42h14M646.68 672.42v14M658.82 679.42h14M665.82 672.42v14M677.96 679.42h14M684.96 672.42v14M697.1 679.42h14M704.1 672.42v14M716.24 679.42h14M723.24 672.42v14M735.38 679.42h14M742.38 672.42v14M754.52 679.42h14M761.52 672.42v14M773.66 679.42h14M780.66 672.42v14M792.8 679.42h14M799.8 672.42v14M811.94 679.42h14M818.94 672.42v14M831.08 679.42h14M838.08 672.42v14M850.22 679.42h14M857.22 672.42v14M869.36 679.42h14M876.36 672.42v14M888.5 679.42h14M895.5 672.42v14M907.64 679.42h14M914.64 672.42v14M926.78 679.42h14M933.78 672.42v14M945.92 679.42h14M952.92 672.42v14M965.06 679.42h14M972.06 672.42v14M984.2 679.42h14M991.2 672.42v14M1003.34 679.42h14M1010.34 672.42v14M1022.48 679.42h14M1029.48 672.42v14M1041.62 679.42h14M1048.62 672.42v14M1060.76 679.42h14M1067.76 672.42v14M1079.9 679.42h14M1086.9 672.42v14M1099.04 679.42h14M1106.04 672.42v14M1118.18 679.42h14M1125.18 672.42v14M1137.32 679.42h14M1144.32 672.42v14M1156.46 679.42h14M1163.46 672.42v14M1175.6 679.42h14M1182.6 672.42v14M1194.74 679.42h14M1201.74 672.42v14M1213.88 679.42h14M1220.88 672.42v14M1233.02 679.42h14M1240.02 672.42v14M1252.16 679.42h14M1259.16 672.42v14M1271.3 679.42h14M1278.3 672.42v14M1290.44 679.42h14M1297.44 672.42v14M1309.58 679.42h14M1316.58 672.42v14M1328.72 679.42h14M1335.72 672.42v14M1347.86 679.42h14M1354.86 672.42v14M1367 679.42h14M1374 672.42v14M1386.14 679.42h14M1393.14 672.42v14M410 698.56h14M417 691.56v14M429.14 698.56h14M436.14 691.56v14M448.28 698.56h14M455.28 691.56v14M467.42 698.56h14M474.42 691.56v14M486.56 698.56h14M493.56 691.56v14M505.7 698.56h14M512.7 691.56v14M524.84 698.56h14M531.84 691.56v14M543.98 698.56h14M550.98 691.56v14M563.12 698.56h14M570.12 691.56v14M582.26 698.56h14M589.26 691.56v14M601.4 698.56h14M608.4 691.56v14M620.54 698.56h14M627.54 691.56v14M639.68 698.56h14M646.68 691.56v14M658.82 698.56h14M665.82 691.56v14M677.96 698.56h14M684.96 691.56v14M697.1 698.56h14M704.1 691.56v14M716.24 698.56h14M723.24 691.56v14M735.38 698.56h14M742.38 691.56v14M754.52 698.56h14M761.52 691.56v14M773.66 698.56h14M780.66 691.56v14M792.8 698.56h14M799.8 691.56v14M811.94 698.56h14M818.94 691.56v14M831.08 698.56h14M838.08 691.56v14M850.22 698.56h14M857.22 691.56v14M869.36 698.56h14M876.36 691.56v14M888.5 698.56h14M895.5 691.56v14M907.64 698.56h14M914.64 691.56v14M926.78 698.56h14M933.78 691.56v14M945.92 698.56h14M952.92 691.56v14M965.06 698.56h14M972.06 691.56v14M984.2 698.56h14M991.2 691.56v14M1003.34 698.56h14M1010.34 691.56v14M1022.48 698.56h14M1029.48 691.56v14M1041.62 698.56h14M1048.62 691.56v14M1060.76 698.56h14M1067.76 691.56v14M1079.9 698.56h14M1086.9 691.56v14M1099.04 698.56h14M1106.04 691.56v14M1118.18 698.56h14M1125.18 691.56v14M1137.32 698.56h14M1144.32 691.56v14M1156.46 698.56h14M1163.46 691.56v14M1175.6 698.56h14M1182.6 691.56v14M1194.74 698.56h14M1201.74 691.56v14M1213.88 698.56h14M1220.88 691.56v14M1233.02 698.56h14M1240.02 691.56v14M1252.16 698.56h14M1259.16 691.56v14M1271.3 698.56h14M1278.3 691.56v14M1290.44 698.56h14M1297.44 691.56v14M1309.58 698.56h14M1316.58 691.56v14M1328.72 698.56h14M1335.72 691.56v14M1347.86 698.56h14M1354.86 691.56v14M1367 698.56h14M1374 691.56v14M1386.14 698.56h14M1393.14 691.56v14M410 717.7h14M417 710.7v14M429.14 717.7h14M436.14 710.7v14M448.28 717.7h14M455.28 710.7v14M467.42 717.7h14M474.42 710.7v14M486.56 717.7h14M493.56 710.7v14M505.7 717.7h14M512.7 710.7v14M524.84 717.7h14M531.84 710.7v14M543.98 717.7h14M550.98 710.7v14M563.12 717.7h14M570.12 710.7v14M582.26 717.7h14M589.26 710.7v14M601.4 717.7h14M608.4 710.7v14M620.54 717.7h14M627.54 710.7v14M639.68 717.7h14M646.68 710.7v14M658.82 717.7h14M665.82 710.7v14M677.96 717.7h14M684.96 710.7v14M697.1 717.7h14M704.1 710.7v14M716.24 717.7h14M723.24 710.7v14M735.38 717.7h14M742.38 710.7v14M754.52 717.7h14M761.52 710.7v14M773.66 717.7h14M780.66 710.7v14M792.8 717.7h14M799.8 710.7v14M811.94 717.7h14M818.94 710.7v14M831.08 717.7h14M838.08 710.7v14M850.22 717.7h14M857.22 710.7v14M869.36 717.7h14M876.36 710.7v14M888.5 717.7h14M895.5 710.7v14M907.64 717.7h14M914.64 710.7v14M926.78 717.7h14M933.78 710.7v14M945.92 717.7h14M952.92 710.7v14M965.06 717.7h14M972.06 710.7v14M984.2 717.7h14M991.2 710.7v14M1003.34 717.7h14M1010.34 710.7v14M1022.48 717.7h14M1029.48 710.7v14M1041.62 717.7h14M1048.62 710.7v14M1060.76 717.7h14M1067.76 710.7v14M1079.9 717.7h14M1086.9 710.7v14M1099.04 717.7h14M1106.04 710.7v14M1118.18 717.7h14M1125.18 710.7v14M1137.32 717.7h14M1144.32 710.7v14M1156.46 717.7h14M1163.46 710.7v14M1175.6 717.7h14M1182.6 710.7v14M1194.74 717.7h14M1201.74 710.7v14M1213.88 717.7h14M1220.88 710.7v14M1233.02 717.7h14M1240.02 710.7v14M1252.16 717.7h14M1259.16 710.7v14M1271.3 717.7h14M1278.3 710.7v14M1290.44 717.7h14M1297.44 710.7v14M1309.58 717.7h14M1316.58 710.7v14M1328.72 717.7h14M1335.72 710.7v14M1347.86 717.7h14M1354.86 710.7v14M1367 717.7h14M1374 710.7v14M1386.14 717.7h14M1393.14 710.7v14M410 736.84h14M417 729.84v14M429.14 736.84h14M436.14 729.84v14M448.28 736.84h14M455.28 729.84v14M467.42 736.84h14M474.42 729.84v14M486.56 736.84h14M493.56 729.84v14M505.7 736.84h14M512.7 729.84v14M524.84 736.84h14M531.84 729.84v14M543.98 736.84h14M550.98 729.84v14M563.12 736.84h14M570.12 729.84v14M582.26 736.84h14M589.26 729.84v14M601.4 736.84h14M608.4 729.84v14M620.54 736.84h14M627.54 729.84v14M639.68 736.84h14M646.68 729.84v14M658.82 736.84h14M665.82 729.84v14M677.96 736.84h14M684.96 729.84v14M697.1 736.84h14M704.1 729.84v14M716.24 736.84h14M723.24 729.84v14M735.38 736.84h14M742.38 729.84v14M754.52 736.84h14M761.52 729.84v14M773.66 736.84h14M780.66 729.84v14M792.8 736.84h14M799.8 729.84v14M811.94 736.84h14M818.94 729.84v14M831.08 736.84h14M838.08 729.84v14M850.22 736.84h14M857.22 729.84v14M869.36 736.84h14M876.36 729.84v14M888.5 736.84h14M895.5 729.84v14M907.64 736.84h14M914.64 729.84v14M926.78 736.84h14M933.78 729.84v14M945.92 736.84h14M952.92 729.84v14M965.06 736.84h14M972.06 729.84v14M984.2 736.84h14M991.2 729.84v14M1003.34 736.84h14M1010.34 729.84v14M1022.48 736.84h14M1029.48 729.84v14M1041.62 736.84h14M1048.62 729.84v14M1060.76 736.84h14M1067.76 729.84v14M1079.9 736.84h14M1086.9 729.84v14M1099.04 736.84h14M1106.04 729.84v14M1118.18 736.84h14M1125.18 729.84v14M1137.32 736.84h14M1144.32 729.84v14M1156.46 736.84h14M1163.46 729.84v14M1175.6 736.84h14M1182.6 729.84v14M1194.74 736.84h14M1201.74 729.84v14M1213.88 736.84h14M1220.88 729.84v14M1233.02 736.84h14M1240.02 729.84v14M1252.16 736.84h14M1259.16 729.84v14M1271.3 736.84h14M1278.3 729.84v14M1290.44 736.84h14M1297.44 729.84v14M1309.58 736.84h14M1316.58 729.84v14M1328.72 736.84h14M1335.72 729.84v14M1347.86 736.84h14M1354.86 729.84v14M1367 736.84h14M1374 729.84v14M1386.14 736.84h14M1393.14 729.84v14" stroke="rgba(0,0,0,0.05)" stroke-width="1" fill="none"/>
</svg>
<div class="lab" style="top:278.79px;letter-spacing:0px">Regulatory uncertainty</div>
<div class="pct" style="top:278.46px;left:786.05px;transform:translateX(-50%) scaleX(1.0)">40%</div>
<div class="lab" style="top:321.85px;letter-spacing:0px">Custody and security concerns</div>
<div class="pct" style="top:321.52px;left:783.6px;transform:translateX(-50%) scaleX(1.0)">38%</div>
<div class="lab" style="top:364.91px;letter-spacing:0px">Asset volatility</div>
<div class="pct" style="top:364.58px;left:774.15px;transform:translateX(-50%) scaleX(1.02)">36%</div>
<div class="lab" style="top:407.97px;letter-spacing:-0.19px">Information asymmetry</div>
<div class="pct" style="top:407.64px;left:713.05px;transform:translateX(-50%) scaleX(0.947)">31%</div>
<div class="lab" style="top:451.03px;letter-spacing:0px">Lack of trust</div>
<div class="pct" style="top:450.7px;left:700.05px;transform:translateX(-50%) scaleX(1.035)">30%</div>
<div class="lab" style="top:494.09px;letter-spacing:0px">Absence of regulated counterparties</div>
<div class="pct" style="top:493.76px;left:658.45px;transform:translateX(-50%) scaleX(1.0)">27%</div>
<div class="lab" style="top:537.15px;letter-spacing:-0.36px">Fiduciary mandate constraints</div>
<div class="pct" style="top:536.82px;left:648.4px;transform:translateX(-50%) scaleX(1.02)">24%</div>
<div class="lab" style="top:580.21px;letter-spacing:0.19px">Liquidity constraints</div>
<div class="pct" style="top:579.88px;left:590.9px;transform:translateX(-50%) scaleX(0.924)">19%</div>
<div class="lab" style="top:623.27px;letter-spacing:0.15px">Lack of market infrastructure</div>
<div class="pct" style="top:622.94px;left:569.3px;transform:translateX(-50%) scaleX(0.953)">17%</div>
<div class="lab" style="top:666.33px;letter-spacing:0.21px">Limited track record</div>
<div class="pct" style="top:666px;left:507.15px;transform:translateX(-50%) scaleX(0.946)">12%</div>
<div class="lab" style="top:709.39px;letter-spacing:0px">Other</div>
<div class="pct out" style="top:709.06px;left:476.45px;transform:translateX(-50%) scaleX(0.975)">4%</div>
<div class="leg" style="top:661.52px;left:1211.9px;letter-spacing:0.45px">Switzerland</div>
<div class="leg" style="top:692.12px;left:1211.9px;letter-spacing:0.3px">APAC</div>
<div class="leg" style="top:722.72px;left:1210.9px;letter-spacing:0.15px">Europe</div>
<div class="hr" style="top:791.3px"></div>
</body></html>
